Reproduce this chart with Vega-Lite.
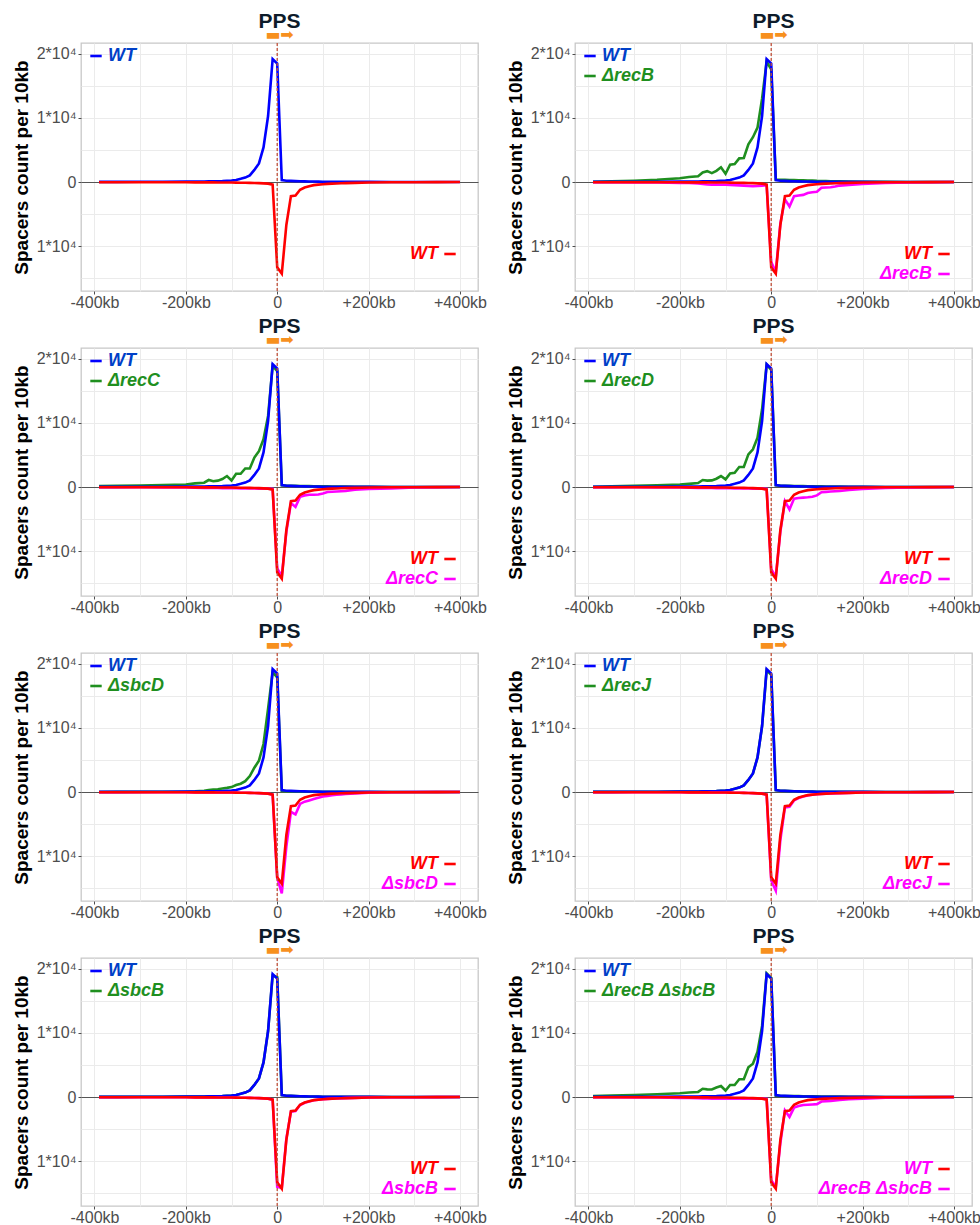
{
"$schema": "https://vega.github.io/schema/vega-lite/v6.json",
"background": "white",
"padding": {"left": 11, "top": 10, "right": 5, "bottom": 0},
"columns": 2,
"spacing": {"row": 4, "column": 17},
"resolve": {"scale": {"stroke": "independent", "color": "independent"}},
"config": {
  "font": "Liberation Sans",
  "view": {"stroke": "#c8c8c8", "strokeWidth": 1.3},
  "axis": {"labelFont": "Liberation Sans", "labelFontSize": 16, "labelColor": "#4d4d4d", "tickColor": "#4d4d4d", "tickSize": 3, "domain": false, "gridColor": "#ebebeb", "titleFont": "Liberation Sans", "titleFontSize": 19, "titleFontWeight": "bold", "titleColor": "#000000", "labelPadding": 2},
  "axisX": {"labelPadding": 0},
  "legend": {"symbolType": "stroke", "symbolStrokeWidth": 3.5, "symbolSize": 130, "labelFont": "Liberation Sans", "labelFontSize": 18, "labelFontWeight": "bold", "labelFontStyle": "italic", "padding": 0, "rowPadding": 2, "labelLimit": 300, "orient": "none", "labelOffset": 3},
  "title": {"font": "Liberation Sans", "fontSize": 21, "fontWeight": "bold", "color": "#0d1b2a", "subtitleFont": "DejaVu Sans", "subtitleFontSize": 16, "subtitleColor": "#f7901e", "subtitlePadding": -5, "anchor": "middle", "frame": "group", "offset": -1},
  "line": {"strokeWidth": 2.6}
},
"datasets": {
"wt": [
{"x":-390,"t":30,"b":-20},{"x":-350,"t":35,"b":-20},{"x":-300,"t":50,"b":-30},{"x":-250,"t":60,"b":-35},{"x":-200,"t":80,"b":-40},{"x":-180,"t":90,"b":-45},{"x":-160,"t":95,"b":-50},{"x":-150,"t":100,"b":-50},{"x":-140,"t":120,"b":-55},{"x":-130,"t":135,"b":-58},{"x":-120,"t":150,"b":-60},{"x":-110,"t":200,"b":-70},{"x":-100,"t":250,"b":-80},{"x":-90,"t":330,"b":-90},{"x":-80,"t":500,"b":-100},{"x":-70,"t":700,"b":-110},{"x":-60,"t":1050,"b":-120},{"x":-50,"t":1900,"b":-140},{"x":-40,"t":2900,"b":-170},{"x":-30,"t":5400,"b":-200},{"x":-20,"t":10300,"b":-250},{"x":-10,"t":19200,"b":-400},{"x":0,"t":18500,"b":-13300},{"x":10,"t":300,"b":-14300},{"x":20,"t":200,"b":-6700},{"x":30,"t":180,"b":-2200},{"x":40,"t":150,"b":-2100},{"x":50,"t":120,"b":-1200},{"x":60,"t":100,"b":-850},{"x":70,"t":90,"b":-650},{"x":80,"t":80,"b":-480},{"x":90,"t":70,"b":-400},{"x":100,"t":60,"b":-330},{"x":110,"t":55,"b":-290},{"x":120,"t":50,"b":-250},{"x":130,"t":47,"b":-220},{"x":140,"t":44,"b":-190},{"x":150,"t":40,"b":-160},{"x":170,"t":35,"b":-120},{"x":200,"t":30,"b":-80},{"x":250,"t":20,"b":-40},{"x":300,"t":10,"b":-20},{"x":350,"t":5,"b":-10},{"x":400,"t":0,"b":0}
],
"mut": [
{"p":"recB","x":-390,"t":50,"b":-20},{"p":"recB","x":-350,"t":100,"b":-30},{"p":"recB","x":-300,"t":200,"b":-50},{"p":"recB","x":-250,"t":350,"b":-80},{"p":"recB","x":-200,"t":600,"b":-120},{"p":"recB","x":-180,"t":800,"b":-150},{"p":"recB","x":-160,"t":900,"b":-200},{"p":"recB","x":-150,"t":1500,"b":-280},{"p":"recB","x":-140,"t":1700,"b":-380},{"p":"recB","x":-130,"t":1400,"b":-420},{"p":"recB","x":-120,"t":1750,"b":-400},{"p":"recB","x":-110,"t":2300,"b":-420},{"p":"recB","x":-100,"t":1300,"b":-430},{"p":"recB","x":-90,"t":2700,"b":-450},{"p":"recB","x":-80,"t":2800,"b":-480},{"p":"recB","x":-70,"t":3700,"b":-520},{"p":"recB","x":-60,"t":3750,"b":-550},{"p":"recB","x":-50,"t":5900,"b":-600},{"p":"recB","x":-40,"t":7000,"b":-650},{"p":"recB","x":-30,"t":8500,"b":-620},{"p":"recB","x":-20,"t":13000,"b":-550},{"p":"recB","x":-10,"t":18800,"b":-500},{"p":"recB","x":0,"t":17600,"b":-12500},{"p":"recB","x":10,"t":400,"b":-14000},{"p":"recB","x":20,"t":350,"b":-6500},{"p":"recB","x":30,"t":350,"b":-2700},{"p":"recB","x":40,"t":330,"b":-3800},{"p":"recB","x":50,"t":300,"b":-2200},{"p":"recB","x":60,"t":280,"b":-2100},{"p":"recB","x":70,"t":260,"b":-2000},{"p":"recB","x":80,"t":240,"b":-1700},{"p":"recB","x":90,"t":220,"b":-1600},{"p":"recB","x":100,"t":180,"b":-1500},{"p":"recB","x":110,"t":160,"b":-900},{"p":"recB","x":120,"t":140,"b":-850},{"p":"recB","x":130,"t":130,"b":-800},{"p":"recB","x":140,"t":120,"b":-700},{"p":"recB","x":150,"t":100,"b":-550},{"p":"recB","x":170,"t":80,"b":-450},{"p":"recB","x":200,"t":50,"b":-300},{"p":"recB","x":250,"t":30,"b":-150},{"p":"recB","x":300,"t":15,"b":-80},{"p":"recB","x":350,"t":8,"b":-40},{"p":"recB","x":400,"t":0,"b":0},
{"p":"recC","x":-390,"t":150,"b":-20},{"p":"recC","x":-350,"t":180,"b":-30},{"p":"recC","x":-300,"t":250,"b":-40},{"p":"recC","x":-250,"t":300,"b":-60},{"p":"recC","x":-200,"t":400,"b":-80},{"p":"recC","x":-180,"t":570,"b":-100},{"p":"recC","x":-160,"t":680,"b":-120},{"p":"recC","x":-150,"t":1100,"b":-130},{"p":"recC","x":-140,"t":900,"b":-140},{"p":"recC","x":-130,"t":1000,"b":-150},{"p":"recC","x":-120,"t":1250,"b":-160},{"p":"recC","x":-110,"t":1720,"b":-170},{"p":"recC","x":-100,"t":1040,"b":-180},{"p":"recC","x":-90,"t":2080,"b":-190},{"p":"recC","x":-80,"t":2080,"b":-200},{"p":"recC","x":-70,"t":2900,"b":-210},{"p":"recC","x":-60,"t":2900,"b":-220},{"p":"recC","x":-50,"t":4600,"b":-230},{"p":"recC","x":-40,"t":5600,"b":-240},{"p":"recC","x":-30,"t":7450,"b":-250},{"p":"recC","x":-20,"t":11100,"b":-250},{"p":"recC","x":-10,"t":18900,"b":-300},{"p":"recC","x":0,"t":18100,"b":-12700},{"p":"recC","x":10,"t":260,"b":-13900},{"p":"recC","x":20,"t":220,"b":-7000},{"p":"recC","x":30,"t":200,"b":-2500},{"p":"recC","x":40,"t":180,"b":-3100},{"p":"recC","x":50,"t":160,"b":-1500},{"p":"recC","x":60,"t":150,"b":-1300},{"p":"recC","x":70,"t":140,"b":-1200},{"p":"recC","x":80,"t":130,"b":-1200},{"p":"recC","x":90,"t":120,"b":-1150},{"p":"recC","x":100,"t":110,"b":-1000},{"p":"recC","x":110,"t":100,"b":-780},{"p":"recC","x":120,"t":95,"b":-740},{"p":"recC","x":130,"t":90,"b":-700},{"p":"recC","x":140,"t":85,"b":-660},{"p":"recC","x":150,"t":80,"b":-620},{"p":"recC","x":170,"t":60,"b":-400},{"p":"recC","x":200,"t":40,"b":-300},{"p":"recC","x":250,"t":20,"b":-200},{"p":"recC","x":300,"t":10,"b":-80},{"p":"recC","x":350,"t":5,"b":-40},{"p":"recC","x":400,"t":0,"b":0},
{"p":"recD","x":-390,"t":60,"b":-20},{"p":"recD","x":-350,"t":100,"b":-30},{"p":"recD","x":-300,"t":200,"b":-40},{"p":"recD","x":-250,"t":280,"b":-60},{"p":"recD","x":-200,"t":400,"b":-80},{"p":"recD","x":-180,"t":500,"b":-100},{"p":"recD","x":-160,"t":620,"b":-120},{"p":"recD","x":-150,"t":1100,"b":-130},{"p":"recD","x":-140,"t":1000,"b":-140},{"p":"recD","x":-130,"t":1040,"b":-150},{"p":"recD","x":-120,"t":1300,"b":-160},{"p":"recD","x":-110,"t":1720,"b":-170},{"p":"recD","x":-100,"t":1200,"b":-180},{"p":"recD","x":-90,"t":2140,"b":-190},{"p":"recD","x":-80,"t":2240,"b":-200},{"p":"recD","x":-70,"t":3130,"b":-210},{"p":"recD","x":-60,"t":3130,"b":-220},{"p":"recD","x":-50,"t":5100,"b":-230},{"p":"recD","x":-40,"t":5890,"b":-240},{"p":"recD","x":-30,"t":7710,"b":-250},{"p":"recD","x":-20,"t":12140,"b":-250},{"p":"recD","x":-10,"t":19100,"b":-300},{"p":"recD","x":0,"t":18300,"b":-12800},{"p":"recD","x":10,"t":260,"b":-14000},{"p":"recD","x":20,"t":220,"b":-7000},{"p":"recD","x":30,"t":200,"b":-2200},{"p":"recD","x":40,"t":180,"b":-3500},{"p":"recD","x":50,"t":160,"b":-1800},{"p":"recD","x":60,"t":150,"b":-1700},{"p":"recD","x":70,"t":140,"b":-1650},{"p":"recD","x":80,"t":130,"b":-1600},{"p":"recD","x":90,"t":120,"b":-1500},{"p":"recD","x":100,"t":110,"b":-1300},{"p":"recD","x":110,"t":100,"b":-800},{"p":"recD","x":120,"t":95,"b":-750},{"p":"recD","x":130,"t":90,"b":-700},{"p":"recD","x":140,"t":85,"b":-660},{"p":"recD","x":150,"t":80,"b":-620},{"p":"recD","x":170,"t":60,"b":-450},{"p":"recD","x":200,"t":40,"b":-300},{"p":"recD","x":250,"t":20,"b":-150},{"p":"recD","x":300,"t":10,"b":-50},{"p":"recD","x":350,"t":5,"b":-25},{"p":"recD","x":400,"t":0,"b":0},
{"p":"sbcD","x":-390,"t":20,"b":-20},{"p":"sbcD","x":-350,"t":25,"b":-20},{"p":"sbcD","x":-300,"t":30,"b":-30},{"p":"sbcD","x":-250,"t":40,"b":-35},{"p":"sbcD","x":-200,"t":60,"b":-40},{"p":"sbcD","x":-180,"t":100,"b":-45},{"p":"sbcD","x":-160,"t":200,"b":-50},{"p":"sbcD","x":-150,"t":300,"b":-50},{"p":"sbcD","x":-140,"t":380,"b":-55},{"p":"sbcD","x":-130,"t":450,"b":-58},{"p":"sbcD","x":-120,"t":550,"b":-60},{"p":"sbcD","x":-110,"t":650,"b":-70},{"p":"sbcD","x":-100,"t":780,"b":-80},{"p":"sbcD","x":-90,"t":1100,"b":-90},{"p":"sbcD","x":-80,"t":1300,"b":-100},{"p":"sbcD","x":-70,"t":1700,"b":-110},{"p":"sbcD","x":-60,"t":2500,"b":-120},{"p":"sbcD","x":-50,"t":3800,"b":-140},{"p":"sbcD","x":-40,"t":4900,"b":-170},{"p":"sbcD","x":-30,"t":7500,"b":-200},{"p":"sbcD","x":-20,"t":13000,"b":-250},{"p":"sbcD","x":-10,"t":18700,"b":-400},{"p":"sbcD","x":0,"t":17900,"b":-13400},{"p":"sbcD","x":10,"t":150,"b":-15800},{"p":"sbcD","x":20,"t":120,"b":-8500},{"p":"sbcD","x":30,"t":100,"b":-3100},{"p":"sbcD","x":40,"t":90,"b":-3500},{"p":"sbcD","x":50,"t":70,"b":-1850},{"p":"sbcD","x":60,"t":60,"b":-1500},{"p":"sbcD","x":70,"t":50,"b":-1300},{"p":"sbcD","x":80,"t":45,"b":-1100},{"p":"sbcD","x":90,"t":40,"b":-900},{"p":"sbcD","x":100,"t":35,"b":-700},{"p":"sbcD","x":110,"t":30,"b":-600},{"p":"sbcD","x":120,"t":28,"b":-500},{"p":"sbcD","x":130,"t":25,"b":-420},{"p":"sbcD","x":140,"t":22,"b":-360},{"p":"sbcD","x":150,"t":20,"b":-300},{"p":"sbcD","x":170,"t":15,"b":-200},{"p":"sbcD","x":200,"t":10,"b":-100},{"p":"sbcD","x":250,"t":5,"b":-30},{"p":"sbcD","x":300,"t":0,"b":0},{"p":"sbcD","x":350,"t":0,"b":0},{"p":"sbcD","x":400,"t":0,"b":0},
{"p":"recJ","x":-390,"t":30,"b":-20},{"p":"recJ","x":-350,"t":35,"b":-20},{"p":"recJ","x":-300,"t":50,"b":-30},{"p":"recJ","x":-250,"t":60,"b":-35},{"p":"recJ","x":-200,"t":80,"b":-40},{"p":"recJ","x":-180,"t":90,"b":-45},{"p":"recJ","x":-160,"t":95,"b":-50},{"p":"recJ","x":-150,"t":100,"b":-50},{"p":"recJ","x":-140,"t":120,"b":-55},{"p":"recJ","x":-130,"t":135,"b":-58},{"p":"recJ","x":-120,"t":150,"b":-60},{"p":"recJ","x":-110,"t":200,"b":-70},{"p":"recJ","x":-100,"t":250,"b":-80},{"p":"recJ","x":-90,"t":330,"b":-90},{"p":"recJ","x":-80,"t":500,"b":-100},{"p":"recJ","x":-70,"t":700,"b":-110},{"p":"recJ","x":-60,"t":1050,"b":-120},{"p":"recJ","x":-50,"t":1900,"b":-140},{"p":"recJ","x":-40,"t":2900,"b":-170},{"p":"recJ","x":-30,"t":5400,"b":-200},{"p":"recJ","x":-20,"t":10300,"b":-250},{"p":"recJ","x":-10,"t":19000,"b":-400},{"p":"recJ","x":0,"t":18300,"b":-13800},{"p":"recJ","x":10,"t":300,"b":-15400},{"p":"recJ","x":20,"t":200,"b":-7500},{"p":"recJ","x":30,"t":180,"b":-2400},{"p":"recJ","x":40,"t":150,"b":-2300},{"p":"recJ","x":50,"t":120,"b":-1300},{"p":"recJ","x":60,"t":100,"b":-950},{"p":"recJ","x":70,"t":90,"b":-700},{"p":"recJ","x":80,"t":80,"b":-520},{"p":"recJ","x":90,"t":70,"b":-430},{"p":"recJ","x":100,"t":60,"b":-350},{"p":"recJ","x":110,"t":55,"b":-300},{"p":"recJ","x":120,"t":50,"b":-260},{"p":"recJ","x":130,"t":47,"b":-230},{"p":"recJ","x":140,"t":44,"b":-200},{"p":"recJ","x":150,"t":40,"b":-170},{"p":"recJ","x":170,"t":35,"b":-130},{"p":"recJ","x":200,"t":30,"b":-80},{"p":"recJ","x":250,"t":20,"b":-40},{"p":"recJ","x":300,"t":10,"b":-20},{"p":"recJ","x":350,"t":5,"b":-10},{"p":"recJ","x":400,"t":0,"b":0},
{"p":"sbcB","x":-390,"t":30,"b":-20},{"p":"sbcB","x":-350,"t":35,"b":-20},{"p":"sbcB","x":-300,"t":50,"b":-30},{"p":"sbcB","x":-250,"t":60,"b":-35},{"p":"sbcB","x":-200,"t":80,"b":-40},{"p":"sbcB","x":-180,"t":90,"b":-45},{"p":"sbcB","x":-160,"t":95,"b":-50},{"p":"sbcB","x":-150,"t":100,"b":-50},{"p":"sbcB","x":-140,"t":120,"b":-55},{"p":"sbcB","x":-130,"t":135,"b":-58},{"p":"sbcB","x":-120,"t":150,"b":-60},{"p":"sbcB","x":-110,"t":200,"b":-70},{"p":"sbcB","x":-100,"t":250,"b":-80},{"p":"sbcB","x":-90,"t":330,"b":-90},{"p":"sbcB","x":-80,"t":500,"b":-100},{"p":"sbcB","x":-70,"t":700,"b":-110},{"p":"sbcB","x":-60,"t":1050,"b":-120},{"p":"sbcB","x":-50,"t":1900,"b":-140},{"p":"sbcB","x":-40,"t":2900,"b":-170},{"p":"sbcB","x":-30,"t":5400,"b":-200},{"p":"sbcB","x":-20,"t":10300,"b":-250},{"p":"sbcB","x":-10,"t":19000,"b":-400},{"p":"sbcB","x":0,"t":18700,"b":-14000},{"p":"sbcB","x":10,"t":300,"b":-14200},{"p":"sbcB","x":20,"t":200,"b":-6500},{"p":"sbcB","x":30,"t":180,"b":-2300},{"p":"sbcB","x":40,"t":150,"b":-2200},{"p":"sbcB","x":50,"t":120,"b":-1250},{"p":"sbcB","x":60,"t":100,"b":-900},{"p":"sbcB","x":70,"t":90,"b":-700},{"p":"sbcB","x":80,"t":80,"b":-500},{"p":"sbcB","x":90,"t":70,"b":-420},{"p":"sbcB","x":100,"t":60,"b":-340},{"p":"sbcB","x":110,"t":55,"b":-300},{"p":"sbcB","x":120,"t":50,"b":-260},{"p":"sbcB","x":130,"t":47,"b":-230},{"p":"sbcB","x":140,"t":44,"b":-200},{"p":"sbcB","x":150,"t":40,"b":-170},{"p":"sbcB","x":170,"t":35,"b":-130},{"p":"sbcB","x":200,"t":30,"b":-80},{"p":"sbcB","x":250,"t":20,"b":-40},{"p":"sbcB","x":300,"t":10,"b":-20},{"p":"sbcB","x":350,"t":5,"b":-10},{"p":"sbcB","x":400,"t":0,"b":0},
{"p":"rBsB","x":-390,"t":160,"b":-20},{"p":"rBsB","x":-350,"t":240,"b":-30},{"p":"rBsB","x":-300,"t":320,"b":-50},{"p":"rBsB","x":-250,"t":450,"b":-80},{"p":"rBsB","x":-200,"t":590,"b":-120},{"p":"rBsB","x":-180,"t":700,"b":-150},{"p":"rBsB","x":-160,"t":800,"b":-180},{"p":"rBsB","x":-150,"t":1290,"b":-200},{"p":"rBsB","x":-140,"t":1200,"b":-220},{"p":"rBsB","x":-130,"t":1180,"b":-250},{"p":"rBsB","x":-120,"t":1500,"b":-260},{"p":"rBsB","x":-110,"t":1720,"b":-270},{"p":"rBsB","x":-100,"t":1020,"b":-270},{"p":"rBsB","x":-90,"t":1880,"b":-260},{"p":"rBsB","x":-80,"t":1880,"b":-250},{"p":"rBsB","x":-70,"t":2790,"b":-250},{"p":"rBsB","x":-60,"t":2790,"b":-250},{"p":"rBsB","x":-50,"t":4660,"b":-250},{"p":"rBsB","x":-40,"t":5200,"b":-250},{"p":"rBsB","x":-30,"t":7080,"b":-250},{"p":"rBsB","x":-20,"t":11100,"b":-250},{"p":"rBsB","x":-10,"t":19300,"b":-300},{"p":"rBsB","x":0,"t":18600,"b":-13000},{"p":"rBsB","x":10,"t":210,"b":-14000},{"p":"rBsB","x":20,"t":180,"b":-7200},{"p":"rBsB","x":30,"t":170,"b":-2100},{"p":"rBsB","x":40,"t":160,"b":-3100},{"p":"rBsB","x":50,"t":150,"b":-1650},{"p":"rBsB","x":60,"t":140,"b":-1400},{"p":"rBsB","x":70,"t":130,"b":-1250},{"p":"rBsB","x":80,"t":120,"b":-1200},{"p":"rBsB","x":90,"t":110,"b":-1150},{"p":"rBsB","x":100,"t":100,"b":-1100},{"p":"rBsB","x":110,"t":90,"b":-700},{"p":"rBsB","x":120,"t":85,"b":-650},{"p":"rBsB","x":130,"t":80,"b":-600},{"p":"rBsB","x":140,"t":75,"b":-520},{"p":"rBsB","x":150,"t":70,"b":-450},{"p":"rBsB","x":170,"t":55,"b":-350},{"p":"rBsB","x":200,"t":40,"b":-250},{"p":"rBsB","x":250,"t":20,"b":-100},{"p":"rBsB","x":300,"t":10,"b":-50},{"p":"rBsB","x":350,"t":5,"b":-25},{"p":"rBsB","x":400,"t":0,"b":0}
]
},
"concat": [
{
 "width": 397, "height": 248,
 "title": {"text": "PPS", "subtitle": "▬➡"},
 "layer": [
  {"data": {"name": "wt"}, "mark": "line", "encoding": {
    "x": {"field": "x", "type": "quantitative", "scale": {"domain": [-429.5, 439.5], "nice": false, "zero": false}, "axis": {"title": null, "values": [-400,-300,-200,-100,0,100,200,300,400], "labelExpr": "datum.value == 0 ? '0' : (datum.value % 200 != 0 ? '' : (datum.value > 0 ? '+' : '') + datum.value + 'kb')", "tickOpacity": {"condition": {"test": "datum.value % 200 == 0", "value": 1}, "value": 0}, "labelOverlap": false, "labelFlush": false}},
    "y": {"field": "t", "type": "quantitative", "scale": {"domain": [-17000, 21700], "nice": false, "zero": false}, "axis": {"title": "Spacers count per 10kb", "titlePadding": 5, "tickCount": 8, "labelExpr": "datum.value == 0 ? '0' : (datum.value % 10000 != 0 ? '' : abs(datum.value) / 10000 + '*10⁴')", "tickOpacity": {"condition": {"test": "datum.value % 10000 == 0", "value": 1}, "value": 0}, "gridColor": {"condition": {"test": "datum.value == 0", "value": "#555555"}, "value": "#ebebeb"}, "labelOverlap": false}},
    "stroke": {"datum": "WT", "scale": {"domain": ["WT"], "range": ["#0000ff"]}, "legend": {"title": null, "legendX": 6, "legendY": 4, "labelColor": "#0040c8"}}}},
  {"data": {"name": "wt"}, "mark": "line", "encoding": {"x": {"field": "x", "type": "quantitative"}, "y": {"field": "b", "type": "quantitative"},
    "color": {"datum": "bWT", "scale": {"domain": ["bWT"], "range": ["#ff0000"]}, "legend": {"title": null, "legendX": 360, "legendY": 202, "labelAlign": "right", "labelOffset": -21, "labelExpr": "slice(datum.label, 1)", "labelColor": "#ff0000"}}}},
  {"data": {"values": [{}]}, "mark": {"type": "rule", "color": "#c0503a", "strokeWidth": 1.3, "strokeDash": [3, 2]}, "encoding": {"x": {"datum": 0, "type": "quantitative"}}}
 ]
},
{
 "width": 397, "height": 248,
 "title": {"text": "PPS", "subtitle": "▬➡"},
 "layer": [
  {"data": {"name": "mut"}, "transform": [{"filter": "datum.p == 'recB'"}], "mark": "line", "encoding": {
    "x": {"field": "x", "type": "quantitative", "scale": {"domain": [-429.5, 439.5], "nice": false, "zero": false}, "axis": {"title": null, "values": [-400,-300,-200,-100,0,100,200,300,400], "labelExpr": "datum.value == 0 ? '0' : (datum.value % 200 != 0 ? '' : (datum.value > 0 ? '+' : '') + datum.value + 'kb')", "tickOpacity": {"condition": {"test": "datum.value % 200 == 0", "value": 1}, "value": 0}, "labelOverlap": false, "labelFlush": false}},
    "y": {"field": "t", "type": "quantitative", "scale": {"domain": [-17000, 21700], "nice": false, "zero": false}, "axis": {"title": "Spacers count per 10kb", "titlePadding": 5, "tickCount": 8, "labelExpr": "datum.value == 0 ? '0' : (datum.value % 10000 != 0 ? '' : abs(datum.value) / 10000 + '*10⁴')", "tickOpacity": {"condition": {"test": "datum.value % 10000 == 0", "value": 1}, "value": 0}, "gridColor": {"condition": {"test": "datum.value == 0", "value": "#555555"}, "value": "#ebebeb"}, "labelOverlap": false}},
    "stroke": {"datum": "ΔrecB", "scale": {"domain": ["WT", "ΔrecB"], "range": ["#0000ff", "#1f8f1f"]}, "legend": {"title": null, "legendX": 6, "legendY": 4, "encoding": {"labels": {"fill": {"condition": {"test": "datum.value === 'WT'", "value": "#0040c8"}, "value": "#1f8f1f"}}}}}}},
  {"data": {"name": "wt"}, "mark": "line", "encoding": {"x": {"field": "x", "type": "quantitative"}, "y": {"field": "t", "type": "quantitative"}, "stroke": {"datum": "WT"}}},
  {"data": {"name": "mut"}, "transform": [{"filter": "datum.p == 'recB'"}], "mark": "line", "encoding": {"x": {"field": "x", "type": "quantitative"}, "y": {"field": "b", "type": "quantitative"},
    "color": {"datum": "bΔrecB", "scale": {"domain": ["bWT", "bΔrecB"], "range": ["#ff0000", "#ff00ff"]}, "legend": {"title": null, "legendX": 360, "legendY": 202, "labelAlign": "right", "labelOffset": -21, "labelExpr": "slice(datum.label, 1)", "encoding": {"labels": {"fill": {"condition": {"test": "datum.value === 'bWT'", "value": "#ff0000"}, "value": "#ff00ff"}}}}}}},
  {"data": {"name": "wt"}, "mark": "line", "encoding": {"x": {"field": "x", "type": "quantitative"}, "y": {"field": "b", "type": "quantitative"}, "color": {"datum": "bWT"}}},
  {"data": {"values": [{}]}, "mark": {"type": "rule", "color": "#c0503a", "strokeWidth": 1.3, "strokeDash": [3, 2]}, "encoding": {"x": {"datum": 0, "type": "quantitative"}}}
 ]
},
{
 "width": 397, "height": 248,
 "title": {"text": "PPS", "subtitle": "▬➡"},
 "layer": [
  {"data": {"name": "mut"}, "transform": [{"filter": "datum.p == 'recC'"}], "mark": "line", "encoding": {
    "x": {"field": "x", "type": "quantitative", "scale": {"domain": [-429.5, 439.5], "nice": false, "zero": false}, "axis": {"title": null, "values": [-400,-300,-200,-100,0,100,200,300,400], "labelExpr": "datum.value == 0 ? '0' : (datum.value % 200 != 0 ? '' : (datum.value > 0 ? '+' : '') + datum.value + 'kb')", "tickOpacity": {"condition": {"test": "datum.value % 200 == 0", "value": 1}, "value": 0}, "labelOverlap": false, "labelFlush": false}},
    "y": {"field": "t", "type": "quantitative", "scale": {"domain": [-17000, 21700], "nice": false, "zero": false}, "axis": {"title": "Spacers count per 10kb", "titlePadding": 5, "tickCount": 8, "labelExpr": "datum.value == 0 ? '0' : (datum.value % 10000 != 0 ? '' : abs(datum.value) / 10000 + '*10⁴')", "tickOpacity": {"condition": {"test": "datum.value % 10000 == 0", "value": 1}, "value": 0}, "gridColor": {"condition": {"test": "datum.value == 0", "value": "#555555"}, "value": "#ebebeb"}, "labelOverlap": false}},
    "stroke": {"datum": "ΔrecC", "scale": {"domain": ["WT", "ΔrecC"], "range": ["#0000ff", "#1f8f1f"]}, "legend": {"title": null, "legendX": 6, "legendY": 4, "encoding": {"labels": {"fill": {"condition": {"test": "datum.value === 'WT'", "value": "#0040c8"}, "value": "#1f8f1f"}}}}}}},
  {"data": {"name": "wt"}, "mark": "line", "encoding": {"x": {"field": "x", "type": "quantitative"}, "y": {"field": "t", "type": "quantitative"}, "stroke": {"datum": "WT"}}},
  {"data": {"name": "mut"}, "transform": [{"filter": "datum.p == 'recC'"}], "mark": "line", "encoding": {"x": {"field": "x", "type": "quantitative"}, "y": {"field": "b", "type": "quantitative"},
    "color": {"datum": "bΔrecC", "scale": {"domain": ["bWT", "bΔrecC"], "range": ["#ff0000", "#ff00ff"]}, "legend": {"title": null, "legendX": 360, "legendY": 202, "labelAlign": "right", "labelOffset": -21, "labelExpr": "slice(datum.label, 1)", "encoding": {"labels": {"fill": {"condition": {"test": "datum.value === 'bWT'", "value": "#ff0000"}, "value": "#ff00ff"}}}}}}},
  {"data": {"name": "wt"}, "mark": "line", "encoding": {"x": {"field": "x", "type": "quantitative"}, "y": {"field": "b", "type": "quantitative"}, "color": {"datum": "bWT"}}},
  {"data": {"values": [{}]}, "mark": {"type": "rule", "color": "#c0503a", "strokeWidth": 1.3, "strokeDash": [3, 2]}, "encoding": {"x": {"datum": 0, "type": "quantitative"}}}
 ]
},
{
 "width": 397, "height": 248,
 "title": {"text": "PPS", "subtitle": "▬➡"},
 "layer": [
  {"data": {"name": "mut"}, "transform": [{"filter": "datum.p == 'recD'"}], "mark": "line", "encoding": {
    "x": {"field": "x", "type": "quantitative", "scale": {"domain": [-429.5, 439.5], "nice": false, "zero": false}, "axis": {"title": null, "values": [-400,-300,-200,-100,0,100,200,300,400], "labelExpr": "datum.value == 0 ? '0' : (datum.value % 200 != 0 ? '' : (datum.value > 0 ? '+' : '') + datum.value + 'kb')", "tickOpacity": {"condition": {"test": "datum.value % 200 == 0", "value": 1}, "value": 0}, "labelOverlap": false, "labelFlush": false}},
    "y": {"field": "t", "type": "quantitative", "scale": {"domain": [-17000, 21700], "nice": false, "zero": false}, "axis": {"title": "Spacers count per 10kb", "titlePadding": 5, "tickCount": 8, "labelExpr": "datum.value == 0 ? '0' : (datum.value % 10000 != 0 ? '' : abs(datum.value) / 10000 + '*10⁴')", "tickOpacity": {"condition": {"test": "datum.value % 10000 == 0", "value": 1}, "value": 0}, "gridColor": {"condition": {"test": "datum.value == 0", "value": "#555555"}, "value": "#ebebeb"}, "labelOverlap": false}},
    "stroke": {"datum": "ΔrecD", "scale": {"domain": ["WT", "ΔrecD"], "range": ["#0000ff", "#1f8f1f"]}, "legend": {"title": null, "legendX": 6, "legendY": 4, "encoding": {"labels": {"fill": {"condition": {"test": "datum.value === 'WT'", "value": "#0040c8"}, "value": "#1f8f1f"}}}}}}},
  {"data": {"name": "wt"}, "mark": "line", "encoding": {"x": {"field": "x", "type": "quantitative"}, "y": {"field": "t", "type": "quantitative"}, "stroke": {"datum": "WT"}}},
  {"data": {"name": "mut"}, "transform": [{"filter": "datum.p == 'recD'"}], "mark": "line", "encoding": {"x": {"field": "x", "type": "quantitative"}, "y": {"field": "b", "type": "quantitative"},
    "color": {"datum": "bΔrecD", "scale": {"domain": ["bWT", "bΔrecD"], "range": ["#ff0000", "#ff00ff"]}, "legend": {"title": null, "legendX": 360, "legendY": 202, "labelAlign": "right", "labelOffset": -21, "labelExpr": "slice(datum.label, 1)", "encoding": {"labels": {"fill": {"condition": {"test": "datum.value === 'bWT'", "value": "#ff0000"}, "value": "#ff00ff"}}}}}}},
  {"data": {"name": "wt"}, "mark": "line", "encoding": {"x": {"field": "x", "type": "quantitative"}, "y": {"field": "b", "type": "quantitative"}, "color": {"datum": "bWT"}}},
  {"data": {"values": [{}]}, "mark": {"type": "rule", "color": "#c0503a", "strokeWidth": 1.3, "strokeDash": [3, 2]}, "encoding": {"x": {"datum": 0, "type": "quantitative"}}}
 ]
},
{
 "width": 397, "height": 248,
 "title": {"text": "PPS", "subtitle": "▬➡"},
 "layer": [
  {"data": {"name": "mut"}, "transform": [{"filter": "datum.p == 'sbcD'"}], "mark": "line", "encoding": {
    "x": {"field": "x", "type": "quantitative", "scale": {"domain": [-429.5, 439.5], "nice": false, "zero": false}, "axis": {"title": null, "values": [-400,-300,-200,-100,0,100,200,300,400], "labelExpr": "datum.value == 0 ? '0' : (datum.value % 200 != 0 ? '' : (datum.value > 0 ? '+' : '') + datum.value + 'kb')", "tickOpacity": {"condition": {"test": "datum.value % 200 == 0", "value": 1}, "value": 0}, "labelOverlap": false, "labelFlush": false}},
    "y": {"field": "t", "type": "quantitative", "scale": {"domain": [-17000, 21700], "nice": false, "zero": false}, "axis": {"title": "Spacers count per 10kb", "titlePadding": 5, "tickCount": 8, "labelExpr": "datum.value == 0 ? '0' : (datum.value % 10000 != 0 ? '' : abs(datum.value) / 10000 + '*10⁴')", "tickOpacity": {"condition": {"test": "datum.value % 10000 == 0", "value": 1}, "value": 0}, "gridColor": {"condition": {"test": "datum.value == 0", "value": "#555555"}, "value": "#ebebeb"}, "labelOverlap": false}},
    "stroke": {"datum": "ΔsbcD", "scale": {"domain": ["WT", "ΔsbcD"], "range": ["#0000ff", "#1f8f1f"]}, "legend": {"title": null, "legendX": 6, "legendY": 4, "encoding": {"labels": {"fill": {"condition": {"test": "datum.value === 'WT'", "value": "#0040c8"}, "value": "#1f8f1f"}}}}}}},
  {"data": {"name": "wt"}, "mark": "line", "encoding": {"x": {"field": "x", "type": "quantitative"}, "y": {"field": "t", "type": "quantitative"}, "stroke": {"datum": "WT"}}},
  {"data": {"name": "mut"}, "transform": [{"filter": "datum.p == 'sbcD'"}], "mark": "line", "encoding": {"x": {"field": "x", "type": "quantitative"}, "y": {"field": "b", "type": "quantitative"},
    "color": {"datum": "bΔsbcD", "scale": {"domain": ["bWT", "bΔsbcD"], "range": ["#ff0000", "#ff00ff"]}, "legend": {"title": null, "legendX": 360, "legendY": 202, "labelAlign": "right", "labelOffset": -21, "labelExpr": "slice(datum.label, 1)", "encoding": {"labels": {"fill": {"condition": {"test": "datum.value === 'bWT'", "value": "#ff0000"}, "value": "#ff00ff"}}}}}}},
  {"data": {"name": "wt"}, "mark": "line", "encoding": {"x": {"field": "x", "type": "quantitative"}, "y": {"field": "b", "type": "quantitative"}, "color": {"datum": "bWT"}}},
  {"data": {"values": [{}]}, "mark": {"type": "rule", "color": "#c0503a", "strokeWidth": 1.3, "strokeDash": [3, 2]}, "encoding": {"x": {"datum": 0, "type": "quantitative"}}}
 ]
},
{
 "width": 397, "height": 248,
 "title": {"text": "PPS", "subtitle": "▬➡"},
 "layer": [
  {"data": {"name": "mut"}, "transform": [{"filter": "datum.p == 'recJ'"}], "mark": "line", "encoding": {
    "x": {"field": "x", "type": "quantitative", "scale": {"domain": [-429.5, 439.5], "nice": false, "zero": false}, "axis": {"title": null, "values": [-400,-300,-200,-100,0,100,200,300,400], "labelExpr": "datum.value == 0 ? '0' : (datum.value % 200 != 0 ? '' : (datum.value > 0 ? '+' : '') + datum.value + 'kb')", "tickOpacity": {"condition": {"test": "datum.value % 200 == 0", "value": 1}, "value": 0}, "labelOverlap": false, "labelFlush": false}},
    "y": {"field": "t", "type": "quantitative", "scale": {"domain": [-17000, 21700], "nice": false, "zero": false}, "axis": {"title": "Spacers count per 10kb", "titlePadding": 5, "tickCount": 8, "labelExpr": "datum.value == 0 ? '0' : (datum.value % 10000 != 0 ? '' : abs(datum.value) / 10000 + '*10⁴')", "tickOpacity": {"condition": {"test": "datum.value % 10000 == 0", "value": 1}, "value": 0}, "gridColor": {"condition": {"test": "datum.value == 0", "value": "#555555"}, "value": "#ebebeb"}, "labelOverlap": false}},
    "stroke": {"datum": "ΔrecJ", "scale": {"domain": ["WT", "ΔrecJ"], "range": ["#0000ff", "#1f8f1f"]}, "legend": {"title": null, "legendX": 6, "legendY": 4, "encoding": {"labels": {"fill": {"condition": {"test": "datum.value === 'WT'", "value": "#0040c8"}, "value": "#1f8f1f"}}}}}}},
  {"data": {"name": "wt"}, "mark": "line", "encoding": {"x": {"field": "x", "type": "quantitative"}, "y": {"field": "t", "type": "quantitative"}, "stroke": {"datum": "WT"}}},
  {"data": {"name": "mut"}, "transform": [{"filter": "datum.p == 'recJ'"}], "mark": "line", "encoding": {"x": {"field": "x", "type": "quantitative"}, "y": {"field": "b", "type": "quantitative"},
    "color": {"datum": "bΔrecJ", "scale": {"domain": ["bWT", "bΔrecJ"], "range": ["#ff0000", "#ff00ff"]}, "legend": {"title": null, "legendX": 360, "legendY": 202, "labelAlign": "right", "labelOffset": -21, "labelExpr": "slice(datum.label, 1)", "encoding": {"labels": {"fill": {"condition": {"test": "datum.value === 'bWT'", "value": "#ff0000"}, "value": "#ff00ff"}}}}}}},
  {"data": {"name": "wt"}, "mark": "line", "encoding": {"x": {"field": "x", "type": "quantitative"}, "y": {"field": "b", "type": "quantitative"}, "color": {"datum": "bWT"}}},
  {"data": {"values": [{}]}, "mark": {"type": "rule", "color": "#c0503a", "strokeWidth": 1.3, "strokeDash": [3, 2]}, "encoding": {"x": {"datum": 0, "type": "quantitative"}}}
 ]
},
{
 "width": 397, "height": 248,
 "title": {"text": "PPS", "subtitle": "▬➡"},
 "layer": [
  {"data": {"name": "mut"}, "transform": [{"filter": "datum.p == 'sbcB'"}], "mark": "line", "encoding": {
    "x": {"field": "x", "type": "quantitative", "scale": {"domain": [-429.5, 439.5], "nice": false, "zero": false}, "axis": {"title": null, "values": [-400,-300,-200,-100,0,100,200,300,400], "labelExpr": "datum.value == 0 ? '0' : (datum.value % 200 != 0 ? '' : (datum.value > 0 ? '+' : '') + datum.value + 'kb')", "tickOpacity": {"condition": {"test": "datum.value % 200 == 0", "value": 1}, "value": 0}, "labelOverlap": false, "labelFlush": false}},
    "y": {"field": "t", "type": "quantitative", "scale": {"domain": [-17000, 21700], "nice": false, "zero": false}, "axis": {"title": "Spacers count per 10kb", "titlePadding": 5, "tickCount": 8, "labelExpr": "datum.value == 0 ? '0' : (datum.value % 10000 != 0 ? '' : abs(datum.value) / 10000 + '*10⁴')", "tickOpacity": {"condition": {"test": "datum.value % 10000 == 0", "value": 1}, "value": 0}, "gridColor": {"condition": {"test": "datum.value == 0", "value": "#555555"}, "value": "#ebebeb"}, "labelOverlap": false}},
    "stroke": {"datum": "ΔsbcB", "scale": {"domain": ["WT", "ΔsbcB"], "range": ["#0000ff", "#1f8f1f"]}, "legend": {"title": null, "legendX": 6, "legendY": 4, "encoding": {"labels": {"fill": {"condition": {"test": "datum.value === 'WT'", "value": "#0040c8"}, "value": "#1f8f1f"}}}}}}},
  {"data": {"name": "wt"}, "mark": "line", "encoding": {"x": {"field": "x", "type": "quantitative"}, "y": {"field": "t", "type": "quantitative"}, "stroke": {"datum": "WT"}}},
  {"data": {"name": "mut"}, "transform": [{"filter": "datum.p == 'sbcB'"}], "mark": "line", "encoding": {"x": {"field": "x", "type": "quantitative"}, "y": {"field": "b", "type": "quantitative"},
    "color": {"datum": "bΔsbcB", "scale": {"domain": ["bWT", "bΔsbcB"], "range": ["#ff0000", "#ff00ff"]}, "legend": {"title": null, "legendX": 360, "legendY": 202, "labelAlign": "right", "labelOffset": -21, "labelExpr": "slice(datum.label, 1)", "encoding": {"labels": {"fill": {"condition": {"test": "datum.value === 'bWT'", "value": "#ff0000"}, "value": "#ff00ff"}}}}}}},
  {"data": {"name": "wt"}, "mark": "line", "encoding": {"x": {"field": "x", "type": "quantitative"}, "y": {"field": "b", "type": "quantitative"}, "color": {"datum": "bWT"}}},
  {"data": {"values": [{}]}, "mark": {"type": "rule", "color": "#c0503a", "strokeWidth": 1.3, "strokeDash": [3, 2]}, "encoding": {"x": {"datum": 0, "type": "quantitative"}}}
 ]
},
{
 "width": 397, "height": 248,
 "title": {"text": "PPS", "subtitle": "▬➡"},
 "layer": [
  {"data": {"name": "mut"}, "transform": [{"filter": "datum.p == 'rBsB'"}], "mark": "line", "encoding": {
    "x": {"field": "x", "type": "quantitative", "scale": {"domain": [-429.5, 439.5], "nice": false, "zero": false}, "axis": {"title": null, "values": [-400,-300,-200,-100,0,100,200,300,400], "labelExpr": "datum.value == 0 ? '0' : (datum.value % 200 != 0 ? '' : (datum.value > 0 ? '+' : '') + datum.value + 'kb')", "tickOpacity": {"condition": {"test": "datum.value % 200 == 0", "value": 1}, "value": 0}, "labelOverlap": false, "labelFlush": false}},
    "y": {"field": "t", "type": "quantitative", "scale": {"domain": [-17000, 21700], "nice": false, "zero": false}, "axis": {"title": "Spacers count per 10kb", "titlePadding": 5, "tickCount": 8, "labelExpr": "datum.value == 0 ? '0' : (datum.value % 10000 != 0 ? '' : abs(datum.value) / 10000 + '*10⁴')", "tickOpacity": {"condition": {"test": "datum.value % 10000 == 0", "value": 1}, "value": 0}, "gridColor": {"condition": {"test": "datum.value == 0", "value": "#555555"}, "value": "#ebebeb"}, "labelOverlap": false}},
    "stroke": {"datum": "ΔrecB ΔsbcB", "scale": {"domain": ["WT", "ΔrecB ΔsbcB"], "range": ["#0000ff", "#1f8f1f"]}, "legend": {"title": null, "legendX": 6, "legendY": 4, "encoding": {"labels": {"fill": {"condition": {"test": "datum.value === 'WT'", "value": "#0040c8"}, "value": "#1f8f1f"}}}}}}},
  {"data": {"name": "wt"}, "mark": "line", "encoding": {"x": {"field": "x", "type": "quantitative"}, "y": {"field": "t", "type": "quantitative"}, "stroke": {"datum": "WT"}}},
  {"data": {"name": "mut"}, "transform": [{"filter": "datum.p == 'rBsB'"}], "mark": "line", "encoding": {"x": {"field": "x", "type": "quantitative"}, "y": {"field": "b", "type": "quantitative"},
    "color": {"datum": "bΔrecB ΔsbcB", "scale": {"domain": ["bWT", "bΔrecB ΔsbcB"], "range": ["#ff0000", "#ff00ff"]}, "legend": {"title": null, "legendX": 360, "legendY": 202, "labelAlign": "right", "labelOffset": -21, "labelExpr": "slice(datum.label, 1)", "labelColor": "#ff00ff"}}}},
  {"data": {"name": "wt"}, "mark": "line", "encoding": {"x": {"field": "x", "type": "quantitative"}, "y": {"field": "b", "type": "quantitative"}, "color": {"datum": "bWT"}}},
  {"data": {"values": [{}]}, "mark": {"type": "rule", "color": "#c0503a", "strokeWidth": 1.3, "strokeDash": [3, 2]}, "encoding": {"x": {"datum": 0, "type": "quantitative"}}}
 ]
}
]
}
